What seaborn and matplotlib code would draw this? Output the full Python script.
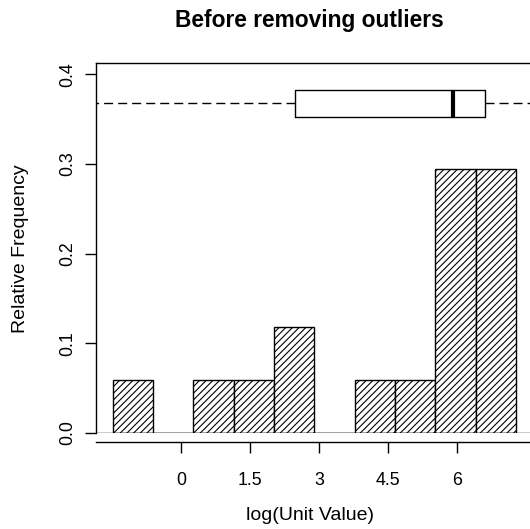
import numpy as np
import pandas as pd
import matplotlib
matplotlib.use("Agg")
import matplotlib.pyplot as plt
import seaborn as sns

# ---------------- data ----------------
bin_start = -1.49
bin_width = 0.877
bin_counts = [1, 0, 1, 1, 2, 0, 1, 1, 5, 5]
n_total = 17
x_ticks = [0, 1.5, 3, 4.5, 6]
x_tick_labels = ["0", "1.5", "3", "4.5", "6"]
y_ticks = [0.0, 0.1, 0.2, 0.3, 0.4]
y_tick_labels = ["0.0", "0.1", "0.2", "0.3", "0.4"]
box_q1 = 2.47
box_median = 5.90
box_q3 = 6.60
box_whisker_low = -3.0
box_whisker_high = 10.0
box_level = 0.3677
title = "Before removing outliers"
xlabel = "log(Unit Value)"
ylabel = "Relative Frequency"

edges = [float(bin_start + bin_width * i) for i in range(len(bin_counts) + 1)]
centers = [(edges[i] + edges[i + 1]) / 2 for i in range(len(bin_counts))]
rel_freq = [c / n_total for c in bin_counts]
df = pd.DataFrame({"value": centers, "rel": rel_freq})

# ---------------- style ----------------
sns.set_style("ticks")
plt.rcParams["font.family"] = ["Liberation Sans", "DejaVu Sans"]
plt.rcParams["text.color"] = "black"
plt.rcParams["axes.labelcolor"] = "black"
plt.rcParams["xtick.color"] = "black"
plt.rcParams["ytick.color"] = "black"
plt.rcParams["hatch.linewidth"] = 0.8
plt.rcParams["hatch.color"] = "black"

W, H = 530, 529
fig = plt.figure(figsize=(W / 100, H / 100), dpi=100)

def fx(px):
    return px / W

def fy(py):
    return 1 - py / H

ax = fig.add_axes([fx(96), fy(433), (560 - 96) / W, (433 - 63) / H])
ax.set_facecolor("white")

sns.histplot(data=df, x="value", weights="rel", bins=edges, stat="count",
             ax=ax, color="white", edgecolor="black", linewidth=1.0,
             alpha=1.0, hatch="/////")

stats = [dict(med=box_median, q1=box_q1, q3=box_q3,
              whislo=box_whisker_low, whishi=box_whisker_high, fliers=[])]
bx_kw = dict(positions=[box_level], widths=[0.0297], showcaps=False,
             showfliers=False, patch_artist=False,
             boxprops=dict(color="black", linewidth=1.0),
             whiskerprops=dict(color="black", linewidth=1.0,
                               linestyle=(0, (6.5, 3.6))),
             medianprops=dict(color="black", linewidth=3.0,
                              solid_capstyle="butt"),
             manage_ticks=False)
try:
    ax.bxp(stats, orientation="horizontal", **bx_kw)
except TypeError:
    ax.bxp(stats, vert=False, **bx_kw)

ax.axhline(0, color="black", linewidth=1.0, zorder=5)

px_per_unit = 46.0
x0_px = 181.3
ax.set_xlim((96 - x0_px) / px_per_unit, (560 - x0_px) / px_per_unit)
ax.set_ylim(0, 370 / 896.8)

ax.set_xticks(x_ticks, x_tick_labels)
ax.set_yticks(y_ticks, y_tick_labels, rotation=90, va="center", ha="right")
ax.set_xlabel("")
ax.set_ylabel("")

for s in ["left", "top", "bottom"]:
    ax.spines[s].set_visible(True)
    ax.spines[s].set_color("black")
    ax.spines[s].set_linewidth(1.0)
ax.spines["right"].set_visible(False)
ax.spines["bottom"].set_position(("outward", 6.5))

ax.tick_params(axis="x", length=7.9, width=1.0, pad=14.0, labelsize=12.75,
               direction="out", color="black", labelcolor="black")
ax.tick_params(axis="y", length=7.9, width=1.0, pad=6.5, labelsize=12.75,
               direction="out", color="black", labelcolor="black")

fig.text(fx(309), fy(27), title, ha="center", va="baseline",
         fontsize=16.4, fontweight="bold", color="black")
fig.text(fx(310), fy(520), xlabel, ha="center", va="baseline", fontsize=14,
         color="black")
fig.text(fx(20.5), fy(248.7), ylabel, ha="center", va="center",
         rotation=90, fontsize=14, color="black")

fig.savefig("out.png", dpi=100)
